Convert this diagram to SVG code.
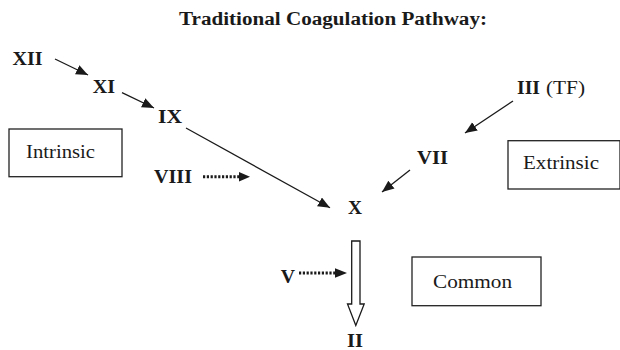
<svg xmlns="http://www.w3.org/2000/svg" width="620" height="350" viewBox="0 0 620 350">
<style>
text{font-family:'Liberation Serif',Tinos,'Nimbus Roman','Times New Roman',Times,serif;fill:#1a1a1a;font-size:19px;}
.b{font-weight:bold;font-size:19px;}
.t{font-weight:bold;font-size:18px;}
.box{fill:#fff;stroke:#222;stroke-width:1.3;}
.ln{stroke:#1a1a1a;stroke-width:1.3;fill:none;}
.dot{stroke:#1a1a1a;stroke-width:3;stroke-dasharray:2.2 1.6;fill:none;}
</style>
<defs>
<marker id="ah" markerUnits="userSpaceOnUse" markerWidth="14" markerHeight="12" refX="12" refY="5" orient="auto">
<path d="M0,0 L12,5 L0,10 z" fill="#1a1a1a"/>
</marker>
</defs>
<rect width="620" height="350" fill="#fff"/>
<text class="t" x="179" y="25" textLength="308" lengthAdjust="spacingAndGlyphs">Traditional Coagulation Pathway:</text>
<g id="XII"><text class="b" x="12.5" y="65" textLength="30" lengthAdjust="spacingAndGlyphs">XII</text></g>
<g id="XI"><text class="b" x="92.7" y="92.7" textLength="22.3" lengthAdjust="spacingAndGlyphs">XI</text></g>
<g id="IX"><text class="b" x="158" y="123" textLength="24" lengthAdjust="spacingAndGlyphs">IX</text></g>
<g id="VIII"><text class="b" x="154" y="183" textLength="38" lengthAdjust="spacingAndGlyphs">VIII</text></g>
<g id="III"><text class="b" x="517" y="94" textLength="23" lengthAdjust="spacingAndGlyphs">III</text><text x="546" y="94" textLength="39" lengthAdjust="spacingAndGlyphs">(TF)</text></g>
<g id="VII"><text class="b" x="417" y="164" textLength="31" lengthAdjust="spacingAndGlyphs">VII</text></g>
<g id="X"><text class="b" x="348" y="214" textLength="14" lengthAdjust="spacingAndGlyphs">X</text></g>
<g id="V"><text class="b" x="280.7" y="283" textLength="14.3" lengthAdjust="spacingAndGlyphs">V</text></g>
<g id="II"><text class="b" x="347" y="347" textLength="16" lengthAdjust="spacingAndGlyphs">II</text></g>
<g id="intrinsic"><rect class="box" x="9" y="129" width="113" height="47.7"/><text x="26" y="158" textLength="69" lengthAdjust="spacingAndGlyphs">Intrinsic</text></g>
<g id="extrinsic"><rect class="box" x="508" y="140.7" width="112" height="48.3"/><text x="523" y="168.5" textLength="76" lengthAdjust="spacingAndGlyphs">Extrinsic</text></g>
<g id="common"><rect class="box" x="412" y="257" width="129" height="48.7"/><text x="433" y="288" textLength="79" lengthAdjust="spacingAndGlyphs">Common</text></g>
<g id="connectors">
<line class="ln" x1="55" y1="59" x2="88" y2="75" marker-end="url(#ah)"/>
<line class="ln" x1="122" y1="92.7" x2="154" y2="108" marker-end="url(#ah)"/>
<line class="ln" x1="186" y1="128" x2="330" y2="207.7" marker-end="url(#ah)"/>
<line class="ln" x1="513" y1="101" x2="465" y2="133" marker-end="url(#ah)"/>
<line class="ln" x1="410" y1="170" x2="382" y2="192" marker-end="url(#ah)"/>
<line class="dot" x1="203" y1="176.7" x2="240" y2="176.7"/>
<path d="M239,172 L250,176.7 L239,181.4 z" fill="#1a1a1a"/>
<line class="dot" x1="299" y1="273" x2="336" y2="273"/>
<path d="M335,268.3 L347,273 L335,277.7 z" fill="#1a1a1a"/>
<polygon points="351.7,241 360,241 360,304 364.2,304 355.8,325.5 347.5,304 351.7,304" fill="#fff" stroke="#1a1a1a" stroke-width="1.3"/>
</g>
</svg>
